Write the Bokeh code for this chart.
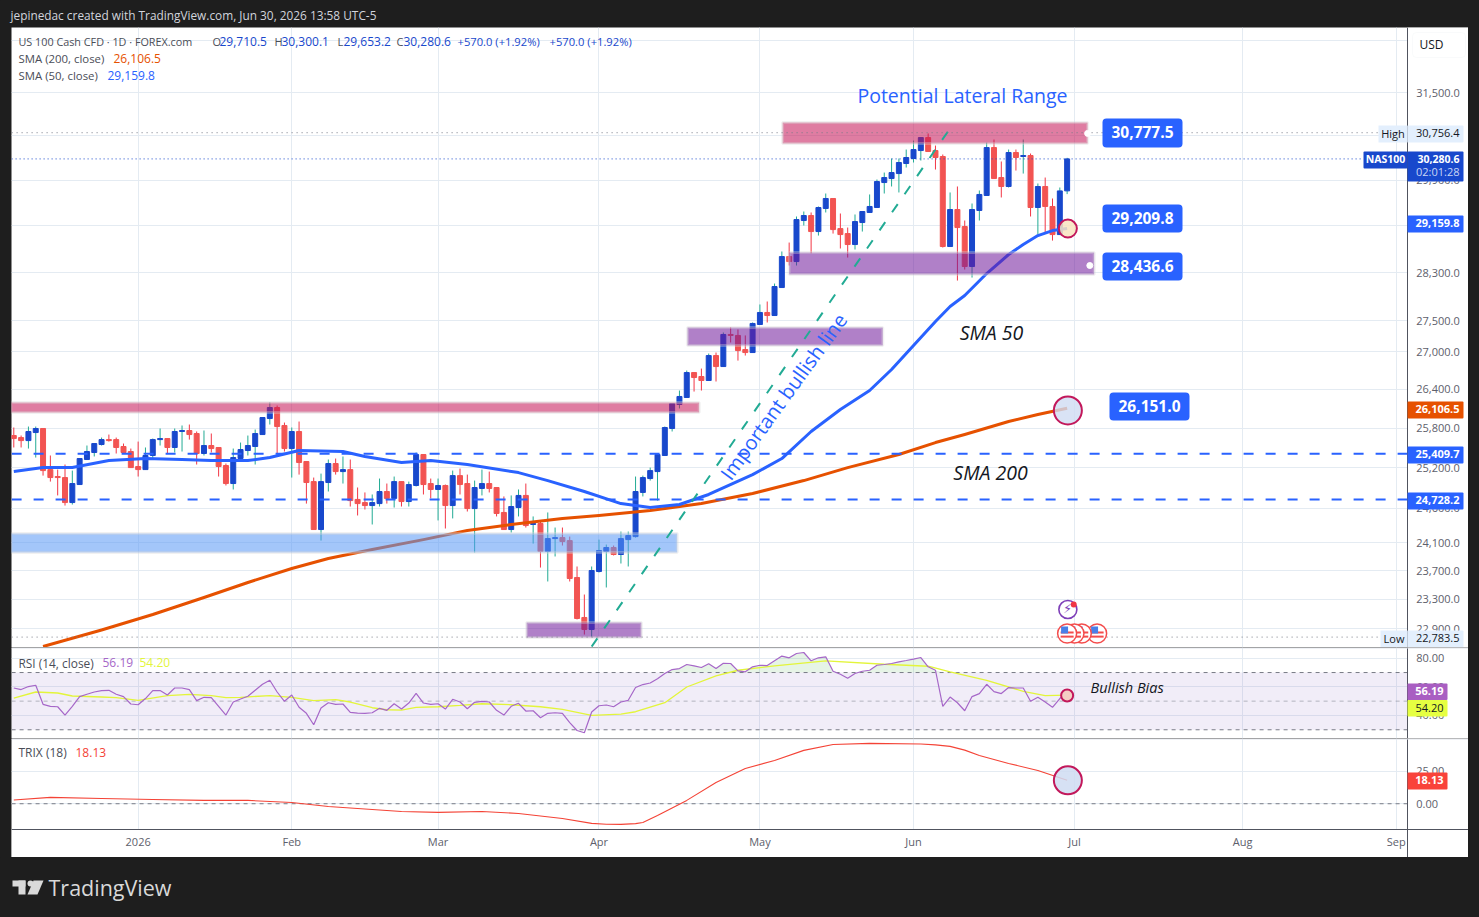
import numpy as np
from bokeh.embed import file_html
from bokeh.layouts import column
from bokeh.models import (BoxAnnotation, ColumnDataSource, FixedTicker, Label, NumeralTickFormatter, Range1d)
from bokeh.plotting import figure
from bokeh.resources import INLINE

FONT = "Open Sans"
# ---------- data: daily bars (bar number 0 .. 144) ----------
open_prices = [25686,25655,25609,25732,25794,25171,25067,25052,24682,24948,
 25322,25428,25549,25624,25624,25519,25443,25217,25171,25383,
 25624,25640,25504,25748,25763,25717,25413,25534,25504,25232,
 24963,25337,25458,25519,25701,25947,26118,25840,25488,25748,
 25292,24992,24289,24978,25262,25141,25171,24728,24682,24638,
 24667,24845,24743,24992,24697,24934,25398,24963,24875,24934,
 24638,25081,24963,24594,24890,24963,24904,24537,24289,24609,
 24787,24362,24377,23974,24159,24173,24130,23606,23051,22887,
 23690,23974,24031,23931,24144,24187,24831,25037,25141,25383,
 25794,26165,26274,26667,26604,26541,26938,26762,27278,27262,
 27034,26986,27440,27637,27587,28050,28572,28487,29191,29278,
 29000,29401,29576,29051,28965,28777,29156,29331,29418,29858,
 29929,30018,30198,30288,30432,30668,30432,30324,28743,29383,
 29087,28403,29366,29629,30486,29947,29788,30396,30324,30342,
 29418,29788,29436,28948,29710.5]
high_prices = [25809,25686,25824,25824,25794,25383,25171,25247,25156,25337,
 25534,25564,25655,25701,25655,25564,25488,25594,25504,25640,
 25794,25640,25794,25840,25855,25748,25763,25717,25504,25262,
 25488,25579,25686,25778,25963,26196,26149,25885,25809,25901,
 25292,25052,25111,25322,25337,25368,25322,24904,24831,24801,
 25037,24963,25067,24992,24992,25428,25398,25037,25037,24948,
 25156,25186,25096,25007,25171,25141,24904,24772,24787,24875,
 24963,24479,24421,24537,24318,24318,24187,23761,23368,23761,
 24144,24073,24059,24260,24260,25067,25081,25201,25398,25824,
 26180,26383,26699,26667,26730,26970,26986,27310,27391,27359,
 27262,27473,27769,27818,28117,28658,28811,29261,29348,29331,
 29436,29664,29576,29313,29069,29296,29348,29647,29912,30036,
 30288,30288,30450,30613,30668,30742,30522,30360,29682,29788,
 29191,29488,29717,30577,30632,30234,30450,30450,30632,30378,
 29841,29947,29576,29770,30300.1]
low_prices = [25504,25504,25488,25352,25081,24992,24787,24638,24653,24948,
 25322,25368,25534,25594,25413,25428,25201,25067,25171,25322,
 25534,25413,25428,25443,25624,25247,25383,25428,25067,24934,
 24875,25322,25383,25247,25701,25855,25413,25443,25052,25096,
 24667,24289,24130,24845,25096,24963,24624,24493,24580,24362,
 24624,24667,24609,24624,24624,24919,24801,24743,24421,24304,
 24450,24801,24551,23960,24787,24831,24479,24289,24245,24479,
 24318,24087,23746,23550,23903,24059,23550,23024,22818,22783.5,
 23676,23466,23917,23803,23761,24173,24772,25007,24711,25383,
 25748,26103,26274,26367,26383,26541,26525,26762,27148,26857,
 26938,26986,27440,27473,27587,28050,28420,28420,29104,28624,
 28931,29331,28965,28709,28555,28692,29000,29331,29418,29664,
 29788,29682,30126,30216,30252,30414,30090,28726,28743,28167,
 28352,28217,29191,29629,29929,29594,29770,30072,30018,29261,
 28948,28983,28845,28948,29653.2]
close_prices = [25640,25609,25748,25794,25156,25052,25052,24682,24963,25337,
 25443,25564,25624,25609,25504,25428,25201,25171,25383,25624,
 25640,25504,25748,25763,25701,25413,25534,25488,25217,24963,
 25352,25473,25534,25717,25963,26118,25824,25488,25748,25277,
 24978,24289,24992,25262,25141,25171,24711,24667,24638,24682,
 24845,24743,24992,24697,24948,25398,24948,24875,24934,24638,
 25081,24948,24594,24904,24963,24890,24522,24289,24624,24787,
 24347,24377,23974,24159,24173,24116,23592,23037,22887,23704,
 23988,24031,23931,24159,24202,24845,25052,25156,25398,25809,
 26180,26290,26667,26588,26541,26938,26762,27278,27262,27018,
 26986,27457,27637,27587,28067,28572,28487,29208,29278,29000,
 29418,29576,29034,28948,28777,29173,29348,29436,29876,29947,
 30036,30216,30306,30450,30668,30414,30306,28743,29383,29069,
 28403,29383,29647,30486,29929,29788,30396,30306,30342,29418,
 29788,29436,28948,29710,30280.6]

sma200_bars = [4,12,19,26,32,38,43,49,56,62,68,75,80,87,94,101,108,114,121,126,130,136,140,144]
sma200_vals = [22656,22880,23092,23327,23536,23732,23874,24003,24144,24274,24362,24450,24493,24565,24667,24816,25007,25201,25398,25579,25701,25901,26010,26106.5]
sma50_bars = [0,4,8,13,18,23,27,32,35,39,45,48,53,57,62,69,73,78,83,87,91,95,101,105,109,113,117,120,123,126,128,130,133,136,138,140,142,144]
sma50_vals = [25141,25201,25201,25307,25337,25322,25307,25307,25352,25458,25443,25368,25277,25307,25247,25126,25007,24845,24667,24609,24653,24801,25096,25337,25748,26087,26383,26715,27099,27489,27736,27918,28285,28607,28777,28931,29017,29052]

rsi_vals = [59.2,58.1,60.2,61.1,47.8,46.4,46.1,40.3,46.4,53.2,54.8,56.4,57.4,57.6,54.8,53.2,48,47.5,51.8,57.4,
 57.4,54.3,59.2,59.2,58.1,50.4,52.7,52.5,46.4,40.3,49.4,51.5,53.4,57.6,61.8,64.6,56.4,49.9,54.3,45.7,
 41.5,33.5,45.2,48.9,47.8,48,42.2,41.7,41.5,41.9,45,43.6,48.2,44.5,48.7,55.5,48.7,47.8,48.2,44.5,
 51.3,49.4,44.7,49.2,49.9,49.4,43.6,40.3,46.4,48.5,43.1,43.3,38.4,41.5,41.9,41.5,35,
 29.5,27.9,42.4,46.8,47.3,46.1,49.4,50.6,59.5,61.6,62.7,65.6,69.3,72.1,72.8,75.6,74.7,73.5,76.1,72.8,76.5,76.3,71.2,
 70.5,74,75.1,74.9,78.2,81.5,80.3,83.3,84,78.2,80.3,81,70.9,68.8,66,69.3,70.9,71.6,75.1,75.6,76.3,77.5,78.4,79.4,
 80.5,74,71.6,46.4,52.9,48.9,43.3,53.2,55.3,61.8,56.7,55.3,59.5,59.2,59.2,49.9,52.7,49.4,45.7,51.8,56.19]
rsi_ma_bars = [0,3,6,8,12,14,17,21,24,27,29,31,35,38,41,44,46,49,51,53,55,58,61,64,68,72,75,79,83,85,89,92,96,99,104,111,119,125,128,133,138,141,144]
rsi_ma_vals = [52.2,56.4,55.7,53.6,52.9,52.5,50.6,53.9,54.8,53.9,52.5,52.7,53.9,52.7,50.4,51.1,49.4,45.4,44,43.8,45.7,46.1,47,48.2,47.5,46.1,44.3,40,41,42.6,48.9,59.9,67.7,71.6,74.7,78.2,75.8,74.4,70.5,64.6,56.9,53.9,54.2]
trix_bars = [0,5,12,19,26,32,38,43,49,53,58,64,69,75,79,81,83,85,86,88,90,92,96,100,104,108,112,117,124,126,128,130,132,136,140,144]
trix_vals = [2.9,4.9,4.1,3.3,2.6,2.6,1.0,-2.1,-4.4,-6.0,-6.7,-6.0,-7.5,-11.4,-15.2,-15.9,-16.0,-15.4,-14.5,-9.1,-3.3,2.6,16.5,27.3,33.5,41.3,45.9,46.7,46.2,45.6,44.4,41.5,37.4,31.2,25.8,18.13]

month_bars = [17,38,58,80,102,123,145,168,189]
month_labels = ["2026","Feb","Mar","Apr","May","Jun","Jul","Aug","Sep"]
price_ticks = [32500,31500,30700,29900,29100,28300,27500,27000,26400,25800,25200,24600,24100,23700,23300,22900]
rsi_ticks = [80,60,40]
trix_ticks = [25,0]

# zones: (first bar, last bar, upper price, lower price)
zone_left   = [105.1,-0.4,-0.4,70.1,92.1,106.0]
zone_right  = [146.8,93.7,90.7,85.8,118.8,147.7]
zone_top    = [30945,26196,24231,22983,27391,28641]
zone_bottom = [30558,26041,23960,22778,27099,28268]
zone_color  = ["#c51356","#c51356","#5897f6","#6f189b","#6f189b","#6f189b"]

trend_bars = [79,127.8]
trend_vals = [22656,30797]

L, R_AX, W = 11, 1407, 1457           # page pixels
AX_BAR = 190.5                         # bar position of the price scale
P_TOP, P_BOT, RSI_BOT, TRIX_BOT, T_BOT = 27, 647, 738, 829, 857
BG = "#1e1e1e"
BLUE, RED, UPW, DNW = "#1848cc", "#f25452", "#22ab94", "#f23645"
GRID = "#e4ebf2"
xrng = Range1d(-0.314, 198.87)

def add_label(fig, bottom, px, py, text, color="#131722", size=11, align="left", bold=False, italic=False, angle=0, font=FONT):
    style = "bold" if bold else ("italic" if italic else "normal")
    fig.add_layout(Label(x=px - L, y=bottom - py + 1, x_units="screen", y_units="screen", text=text, text_color=color,
                         text_font_size=f"{size}px", text_font=font, text_align=align, text_baseline="middle",
                         text_font_style=style, angle=angle, angle_units="deg"))

def add_box(fig, bottom, x0, x1, y0, y1, color, radius=0, line=None):
    fig.add_layout(BoxAnnotation(left=x0 - L, right=x1 - L, top=bottom - y0, bottom=bottom - y1, left_units="screen", right_units="screen",
                                 top_units="screen", bottom_units="screen", fill_color=color, fill_alpha=1, line_color=line, border_radius=radius))

def badge(fig, bottom, y0, y1, text, bg, fg="#ffffff", x1=1463, bold=False):
    add_box(fig, bottom, R_AX, x1, y0, y1, bg, radius=1)
    add_label(fig, bottom, 1459, (y0 + y1) / 2, text, color=fg, align="right", bold=bold)

def make_fig(height, y_range, ticks, y_type="linear", fmt="0.00"):
    f = figure(width=W, height=height, x_range=xrng, y_range=y_range, y_axis_type=y_type, y_axis_location="right",
               output_backend="svg", toolbar_location=None, min_border=0,
               margin=(0, 0, 0, L), outline_line_color=None, background_fill_color="#ffffff", border_fill_color="#ffffff")
    ax = f.yaxis[0]
    ax.fixed_location = AX_BAR
    ax.ticker = FixedTicker(ticks=ticks, minor_ticks=[])
    ax.formatter = NumeralTickFormatter(format=fmt)
    ax.major_tick_line_color = None
    ax.minor_tick_line_color = None
    ax.major_tick_out = 0
    ax.major_tick_in = 0
    ax.major_label_standoff = 9
    ax.major_label_text_color = "#5d606b"
    ax.major_label_text_font = FONT
    ax.major_label_text_font_size = "11px"
    ax.axis_line_color = "#50535e"
    ax.axis_line_width = 1
    f.ygrid[0].grid_line_color = GRID
    f.xgrid[0].grid_line_color = GRID
    f.xgrid[0].ticker = FixedTicker(ticks=month_bars, minor_ticks=[])
    f.xaxis[0].visible = False
    f.add_layout(BoxAnnotation(left=AX_BAR, fill_color="#ffffff", fill_alpha=1, line_color=None, level="underlay"))
    return f

# ---------- header ----------
header = figure(width=1479, height=P_TOP, output_backend="svg", toolbar_location=None, x_range=(0, 1), y_range=(0, 1),
                min_border=0, outline_line_color=None, background_fill_color=BG, border_fill_color=BG, x_axis_location=None, y_axis_location=None)
header.grid.visible = False
header.add_layout(Label(x=10, y=13, x_units="screen", y_units="screen", text="jepinedac created with TradingView.com, Jun 30, 2026 13:58 UTC-5",
                        text_color="#d1d4dc", text_font_size="11.85px", text_font=FONT, text_baseline="middle"))

# ---------- price pane ----------
price = make_fig(P_BOT - P_TOP, Range1d(22643, 32743), price_ticks, "log", "0,0.0")
b = np.arange(len(close_prices))
o, h, lo, c = map(np.array, (open_prices, high_prices, low_prices, close_prices))
up = c >= o
src = ColumnDataSource(dict(x=b, o=o, h=h, l=lo, c=c, top=np.maximum(o, c), bot=np.minimum(o, c),
                            body=[BLUE if u else RED for u in up], wick=[UPW if u else DNW for u in up]))
price.segment("x", "h", "x", "l", color="wick", line_width=1, source=src)
price.vbar("x", 0.68, "top", "bot", fill_color="body", line_color="body", line_width=1, source=src)
price.line(sma200_bars, sma200_vals, color="#e65100", line_width=3, line_join="round")
price.line(sma50_bars, sma50_vals, color="#2962ff", line_width=3, line_join="round")
price.quad(left=zone_left, right=zone_right, top=zone_top, bottom=zone_bottom, fill_color=zone_color, fill_alpha=0.55, line_color="#d8d8d8", line_alpha=0.35, line_width=3)
price.line(trend_bars, trend_vals, color=UPW, line_width=2, line_dash="10 12")
for v in (25409.7, 24728.2):
    price.line([-0.3, AX_BAR], [v, v], color="#2962ff", line_width=2, line_dash="10 12")
price.line([-0.3, 184.5], [30280.6, 30280.6], color=BLUE, line_width=1, line_dash="1 3")
price.line([-0.3, 186.5], [30756.4, 30756.4], color="#787b86", line_width=1, line_dash="1 4")
price.line([-0.3, 186.5], [22783.5, 22783.5], color="#787b86", line_width=1, line_dash="1 4")
price.scatter([144.1], [26072], size=28, fill_color="#cfdcf2", fill_alpha=0.8, line_color="#c2185b", line_width=2)
price.scatter([144.1], [29052], size=18, fill_color="#f9e3c0", fill_alpha=0.85, line_color="#c2185b", line_width=2)
price.scatter([146.8, 147.1], [30744, 28420], size=6, fill_color="#ffffff", line_color="#ffffff")
# calendar events (drawn right to left so the first flag lies on top)
for fx in (148.1, 146.0, 145.0, 144.0):
    price.scatter([fx], [22832], size=19, fill_color="#ffffff", line_color="#f44c4c", line_width=1.5)
    price.scatter([fx, fx], [22846, 22790], marker="dash", size=13, line_color="#f44c4c", line_width=2)
    price.scatter([fx - 0.35], [22880], marker="square", size=7, fill_color="#4a7fe8", line_color=None)
price.scatter([144.1], [23160], size=18, fill_color="#ffffff", line_color="#7e3fb8", line_width=1.6)
price.scatter([144.9], [23229], size=6, fill_color="#f23645", line_color=None)
lb = P_BOT
add_label(price, lb, 1067, 609, "⚡", color="#7e3fb8", size=13, align="center", font="DejaVu Sans")

# drawing texts
add_box(price, lb, 1102, 1182, 118, 147, "#2962ff", radius=4)
add_box(price, lb, 1102, 1182, 204, 232, "#2962ff", radius=4)
add_box(price, lb, 1102, 1182, 252, 280, "#2962ff", radius=4)
add_box(price, lb, 1109, 1189, 392, 420, "#2962ff", radius=4)
for px, py, t in ((1142, 132.5, "30,777.5"), (1142, 218, "29,209.8"), (1142, 266, "28,436.6"), (1149, 406, "26,151.0")):
    add_label(price, lb, px, py, t, color="#ffffff", size=15.5, align="center", bold=True)
add_label(price, lb, 962, 96, "Potential Lateral Range", color="#2962ff", size=19.5, align="center")
add_label(price, lb, 783, 397, "Important bullish line", color="#2962ff", size=20, align="center", angle=54)
add_label(price, lb, 991, 333, "SMA 50", color="#131722", size=19.5, align="center", italic=True)
add_label(price, lb, 990, 473, "SMA 200", color="#131722", size=19.5, align="center", italic=True)

# legend
GREY = "#4a4d57"
add_label(price, lb, 18, 42, "US 100 Cash CFD · 1D · FOREX.com", color=GREY, size=10.8)
for px, letter, vx, val in ((212, "O", 219, "29,710.5"), (274, "H", 281, "30,300.1"), (337, "L", 343, "29,653.2"), (396, "C", 403, "30,280.6")):
    add_label(price, lb, px, 42, letter, color=GREY, size=11)
    add_label(price, lb, vx, 42, val, color=BLUE, size=12)
add_label(price, lb, 457, 42, "+570.0 (+1.92%)", color=BLUE, size=11.2)
add_label(price, lb, 549, 42, "+570.0 (+1.92%)", color=BLUE, size=11.2)
add_label(price, lb, 18, 59, "SMA (200, close)", color=GREY, size=11.4)
add_label(price, lb, 113, 59, "26,106.5", color="#e65100", size=12)
add_label(price, lb, 18, 76, "SMA (50, close)", color=GREY, size=11.4)
add_label(price, lb, 107, 76, "29,159.8", color="#2962ff", size=12)

# scale badges
add_box(price, lb, 1412, 1465, 32, 57, "#ffffff", radius=4, line="#eceef2")
add_label(price, lb, 1431, 44.5, "USD", align="center", color="#131722", size=12)
add_box(price, lb, 1378, R_AX, 125, 142, "#e3effd")
add_label(price, lb, 1392.5, 133.5, "High", align="center")
badge(price, lb, 125, 142, "30,756.4", "#e3effd", "#131722")
add_box(price, lb, 1363, R_AX, 151, 168, BLUE, radius=1)
add_label(price, lb, 1385, 159.5, "NAS100", align="center", color="#ffffff", size=10.5, bold=True)
add_box(price, lb, R_AX, 1463, 151, 181, BLUE, radius=1)
add_label(price, lb, 1459, 159, "30,280.6", color="#ffffff", align="right", size=10.5, bold=True)
add_label(price, lb, 1459, 172, "02:01:28", color="#c8d6f5", align="right")
badge(price, lb, 215, 232, "29,159.8", "#2962ff", bold=True)
badge(price, lb, 401, 418, "26,106.5", "#e65100", bold=True)
badge(price, lb, 446, 463, "25,409.7", "#2962ff", bold=True)
badge(price, lb, 492, 509, "24,728.2", "#2962ff", bold=True)
add_box(price, lb, 1380, R_AX, 630, 647, "#e3effd")
add_label(price, lb, 1393.5, 638.5, "Low", align="center")
badge(price, lb, 630, 647, "22,783.5", "#e3effd", "#131722")

# ---------- RSI pane ----------
rsi = make_fig(RSI_BOT - P_BOT, Range1d(23.9, 87.5), rsi_ticks)
rb = RSI_BOT
rsi.add_layout(BoxAnnotation(bottom=30, top=70, right=AX_BAR, fill_color="#7e57c2", fill_alpha=0.11, line_color=None, level="underlay"))
rx = np.arange(len(rsi_vals))
rv = np.array(rsi_vals)
rsi.varea(rx, np.full(len(rv), 70.0), np.maximum(rv, 70.0), fill_color="#4caf50", fill_alpha=0.14)
for v, a in ((70, 1), (50, 0.5), (30, 1)):
    rsi.line([-0.3, AX_BAR], [v, v], color="#787b86", line_alpha=a, line_width=1, line_dash="4 4")
rsi.line(rsi_ma_bars, rsi_ma_vals, color="#e3f53a", line_width=1.3)
rsi.line(rx, rv, color="#a667c8", line_width=1.2)
rsi.scatter([144], [54], size=12, fill_color="#f4cfc4", line_color="#c2185b", line_width=2)
add_box(rsi, rb, L, 1468, P_BOT, P_BOT + 1, "#e0e3eb")
add_label(rsi, rb, 18, 663, "RSI (14, close)", color=GREY, size=11.9)
add_label(rsi, rb, 102, 663, "56.19", color="#a667c8", size=12)
add_label(rsi, rb, 139, 663, "54.20", color="#e3f53a", size=12)
add_label(rsi, rb, 1090, 688, "Bullish Bias", color="#131722", size=14.5, italic=True)
add_box(rsi, rb, R_AX, 1447, 683, 699.5, "#a95ec2", radius=1)
add_label(rsi, rb, 1443, 691.5, "56.19", color="#ffffff", align="right", bold=True)
add_box(rsi, rb, R_AX, 1447, 699.5, 716, "#e6ff41", radius=1)
add_label(rsi, rb, 1443, 708, "54.20", color="#131722", align="right")

# ---------- TRIX pane (its frame also holds the time scale) ----------
TIME_FLOOR = -19.9
trix = make_fig(T_BOT - RSI_BOT, Range1d(-41.6, 50.5), trix_ticks)
tb = T_BOT
trix.add_layout(BoxAnnotation(top=TIME_FLOOR, fill_color="#ffffff", fill_alpha=1, line_color=None, level="underlay"))
trix.line([-0.3, AX_BAR], [0, 0], color="#787b86", line_width=1, line_dash="4 4")
trix.line(trix_bars, trix_vals, color="#f44336", line_width=1.1, line_join="round")
trix.scatter([144.1], [18.13], size=28, fill_color="#cfdcf2", fill_alpha=0.85, line_color="#c2185b", line_width=2)
xa = trix.xaxis[0]
xa.visible = True
xa.fixed_location = TIME_FLOOR
xa.ticker = FixedTicker(ticks=month_bars, minor_ticks=[])
xa.major_label_overrides = dict(zip(month_bars, month_labels))
xa.major_tick_line_color = None
xa.minor_tick_line_color = None
xa.major_tick_out = 0
xa.major_tick_in = 0
xa.major_label_text_color = "#5d606b"
xa.major_label_text_font = FONT
xa.major_label_text_font_size = "11px"
xa.major_label_standoff = 5
xa.axis_line_color = "#50535e"
add_box(trix, tb, L, 1468, RSI_BOT, RSI_BOT + 1, "#e0e3eb")
add_label(trix, tb, 18, 753, "TRIX (18)", color=GREY, size=12)
add_label(trix, tb, 75, 753, "18.13", color="#f44336", size=12)
add_box(trix, tb, R_AX, 1447, 772, 789, "#f9433a", radius=1)
add_label(trix, tb, 1443, 780.5, "18.13", color="#ffffff", align="right", bold=True)

# ---------- footer ----------
footer = figure(width=1479, height=60, output_backend="svg", toolbar_location=None, x_range=(0, 1479), y_range=(60, 0),
                min_border=0, outline_line_color=None, background_fill_color=BG, border_fill_color=BG, x_axis_location=None, y_axis_location=None)
footer.grid.visible = False
footer.quad(left=[12], right=[25], top=[23], bottom=[29], fill_color="#d9d9d9", line_color=None)
footer.quad(left=[18], right=[25], top=[23], bottom=[37], fill_color="#d9d9d9", line_color=None)
footer.scatter([30], [26], size=6, fill_color="#d9d9d9", line_color=None)
footer.patch([33, 43, 37, 27], [23, 23, 37, 37], fill_color="#d9d9d9", line_color=None)
footer.add_layout(Label(x=48, y=30, x_units="screen", y_units="screen", text="TradingView", text_color="#d9d9d9",
                        text_font_size="21.5px", text_font=FONT, text_font_style="normal", text_baseline="middle"))

page = column(header, price, rsi, trix, footer, spacing=0)
html = file_html(page, INLINE, "US 100 Cash CFD")
html = html.replace("</head>", f"<style>html,body{{margin:0;padding:0;background:{BG};}}</style></head>")
open("out.html", "w").write(html)
